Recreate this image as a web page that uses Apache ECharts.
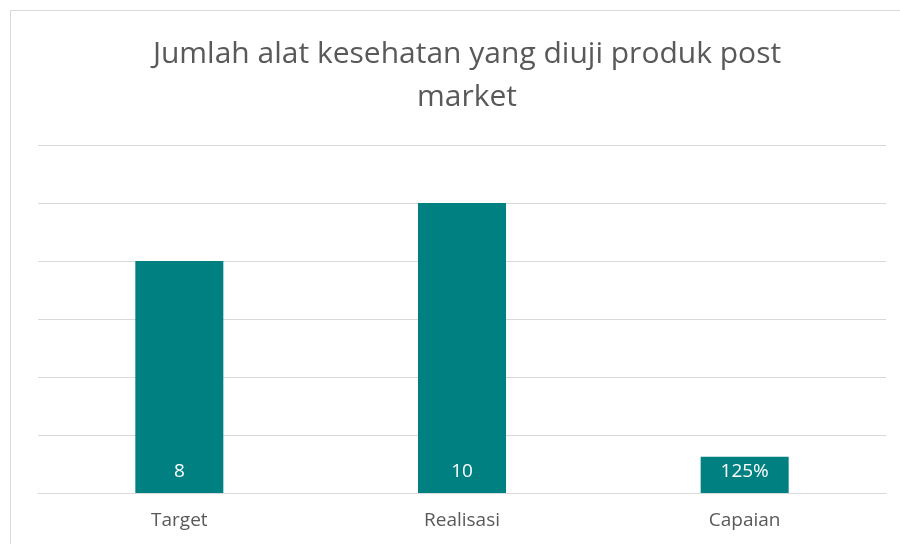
<!DOCTYPE html>
<html>
<head>
<meta charset="utf-8">
<script src="https://cdn.jsdelivr.net/npm/echarts@6/dist/echarts.min.js"></script>
<style>
  html, body { margin: 0; padding: 0; background: #fff; }
  #main { width: 900px; height: 544px; }
</style>
</head>
<body>
<div id="main"></div>
<script>
// data
var categories = ['Target', 'Realisasi', 'Capaian'];
var values = [8, 10, 1.25];
var valueLabels = ['8', '10', '125%'];
var titleText = 'Jumlah alat kesehatan yang diuji produk post\nmarket';

var myChart = echarts.init(document.getElementById('main'));
var option = {
  animation: false,
  textStyle: { fontFamily: 'Open Sans' },
  // outer chart frame
  graphic: [{
    type: 'rect',
    shape: { x: 10.5, y: 10.5, width: 900, height: 560 },
    style: { fill: 'none', stroke: '#d9d9d9', lineWidth: 1 },
    silent: true
  }],
  title: {
    text: titleText,
    left: 462,
    top: 28,
    textAlign: 'center',
    textStyle: {
      fontFamily: 'Open Sans',
      fontSize: 30,
      fontWeight: 'normal',
      color: '#595959',
      lineHeight: 43
    }
  },
  grid: { left: 38, right: 14, top: 145, bottom: 51 },
  xAxis: {
    type: 'category',
    data: categories,
    axisLine: { lineStyle: { color: '#d9d9d9', width: 1 } },
    axisTick: { show: false },
    axisLabel: { color: '#595959', fontSize: 19, margin: 18 }
  },
  yAxis: {
    type: 'value',
    min: 0,
    max: 12,
    interval: 2,
    axisLabel: { show: false },
    axisLine: { show: false },
    axisTick: { show: false },
    splitLine: { lineStyle: { color: '#d9d9d9', width: 1 } }
  },
  series: [{
    type: 'bar',
    data: values,
    barWidth: 88,
    itemStyle: { color: '#008080' },
    label: {
      show: true,
      position: 'insideBottom',
      distance: 12,
      color: '#fff',
      fontSize: 19,
      formatter: function (p) { return valueLabels[p.dataIndex]; }
    }
  }]
};
myChart.setOption(option);
</script>
</body>
</html>
